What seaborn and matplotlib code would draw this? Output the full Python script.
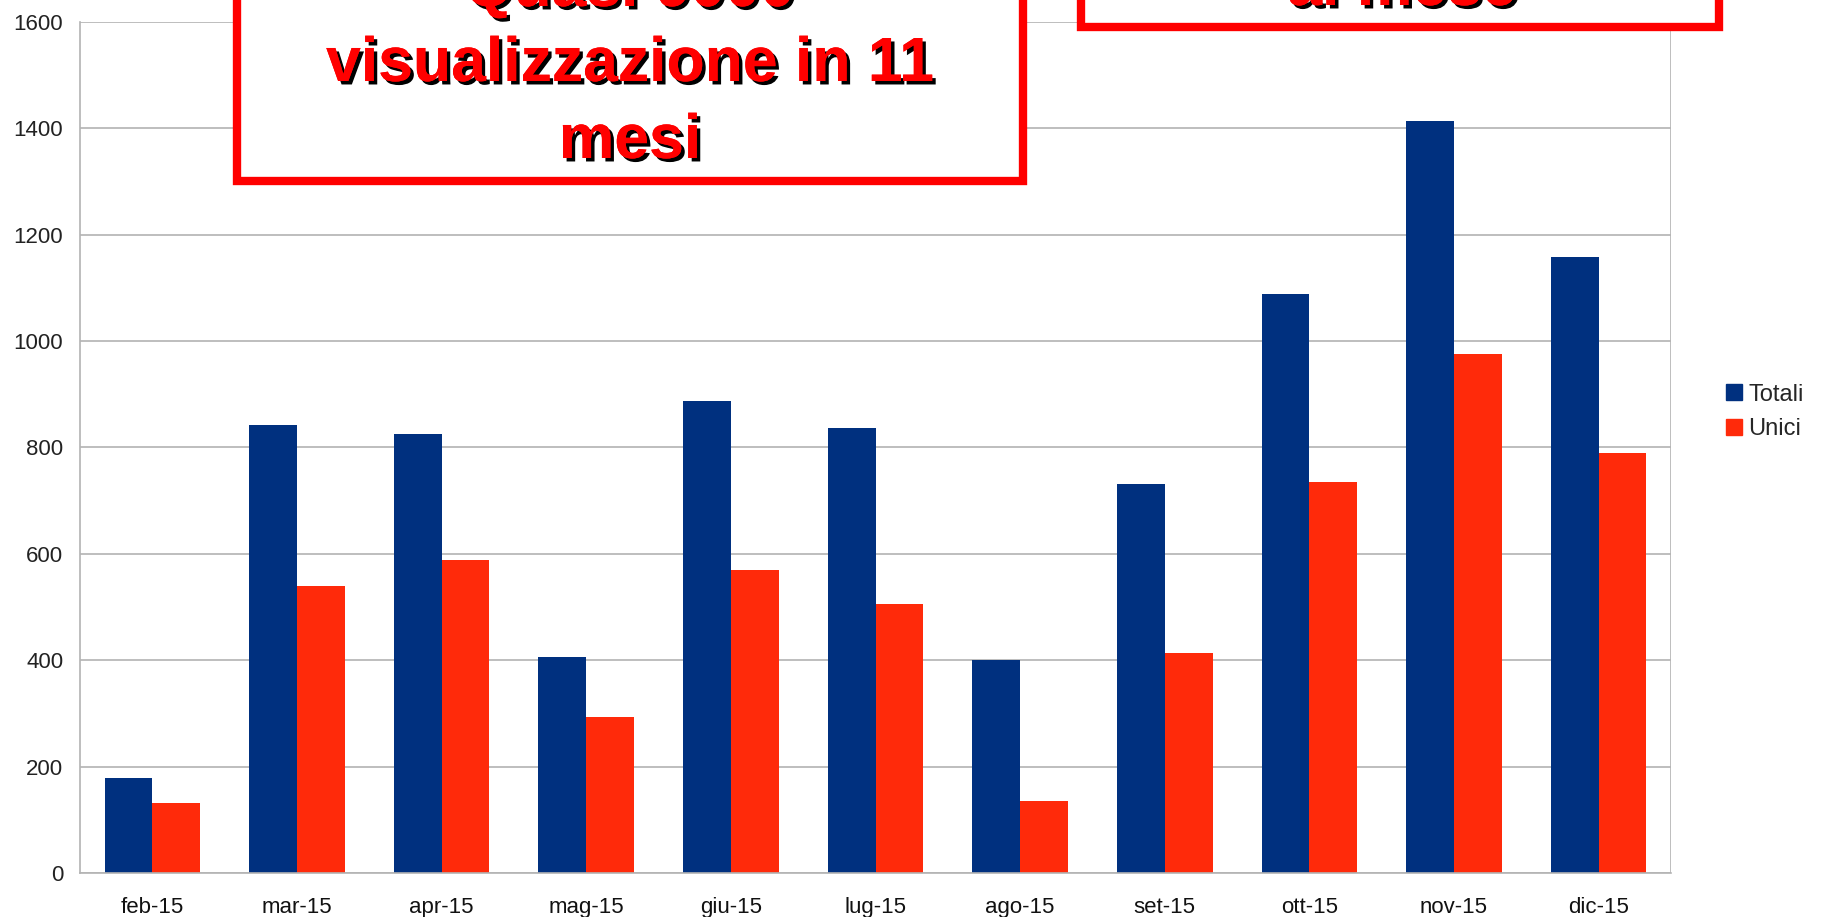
import matplotlib
matplotlib.use("Agg")
import matplotlib.pyplot as plt
import matplotlib.patheffects as pe
from matplotlib.patches import Rectangle
from matplotlib.lines import Line2D
import seaborn as sns
import pandas as pd
import numpy as np

months = ["feb-15", "mar-15", "apr-15", "mag-15", "giu-15", "lug-15",
          "ago-15", "set-15", "ott-15", "nov-15", "dic-15"]
totali = [178, 843, 825, 407, 887, 836, 400, 731, 1089, 1413, 1158]
unici = [132, 539, 588, 293, 570, 506, 136, 414, 735, 975, 790]
series_names = ["Totali", "Unici"]
colors = ["#00307f", "#ff2a0a"]
yticks = [0, 200, 400, 600, 800, 1000, 1200, 1400, 1600]

df = pd.DataFrame({
    "mese": months * 2,
    "valore": totali + unici,
    "serie": [series_names[0]] * len(months) + [series_names[1]] * len(months),
})

sns.set_style("white")
plt.rcParams["font.family"] = ["Liberation Sans Narrow", "Liberation Sans", "DejaVu Sans"]

W, H = 1835, 917
fig = plt.figure(figsize=(W / 100, H / 100), dpi=100)
ax = fig.add_axes([80 / W, 1 - 873 / H, (1671 - 80) / W, (873 - 22) / H])

sns.barplot(data=df, x="mese", y="valore", hue="serie", order=months,
            hue_order=series_names, palette=colors, saturation=1,
            width=0.66, gap=0, ax=ax, legend=False, edgecolor="none")

ax.set_xlim(-0.5, len(months) - 0.5)
ax.set_ylim(0, 1600)
ax.set_yticks(yticks)
ax.set_yticklabels([str(v) for v in yticks])
ax.yaxis.grid(True, color="#b3b3b3", linewidth=1.2)
ax.set_axisbelow(True)
ax.set_xlabel("")
ax.set_ylabel("")

for s in ["left", "bottom"]:
    ax.spines[s].set_color("#b3b3b3")
    ax.spines[s].set_linewidth(1.2)
for s in ["top", "right"]:
    ax.spines[s].set_visible(False)
ax.axvline(len(months) - 0.5, color="#b3b3b3", linewidth=1.2)

ax.tick_params(axis="y", length=8, color="#b3b3b3", width=1.2, pad=4,
               labelsize=16, labelcolor="#222222")
ax.tick_params(axis="x", which="major", length=0, pad=17, labelsize=16,
               labelcolor="#111111")
ax.set_xticks(np.arange(-0.5, len(months), 1.0), minor=True)
ax.tick_params(axis="x", which="minor", length=10, color="#b3b3b3", width=1.2)

handles = [Line2D([0], [0], marker="s", linestyle="none", markersize=11,
                  markerfacecolor=c, markeredgecolor=c) for c in colors]
fig.legend(handles, series_names, loc="center left",
           bbox_to_anchor=(1713 / W, 1 - 412 / H), frameon=False,
           fontsize=17, handletextpad=0.1, labelspacing=0.55,
           handlelength=1.0, borderaxespad=0)

# annotation boxes
shadow = [pe.withSimplePatchShadow(offset=(2.5, -2.5), shadow_rgbFace="black", alpha=1.0), pe.Normal()]

def box(x0, x1, y_bottom):
    r = Rectangle((x0 / W, 1 - y_bottom / H), (x1 - x0) / W, (y_bottom + 40) / H,
                  transform=fig.transFigure, facecolor="white",
                  edgecolor="#ff0000", linewidth=6, zorder=10)
    fig.add_artist(r)

box(237, 1023, 181)
box(1081, 1719, 27)

font_box = ["Liberation Sans", "DejaVu Sans"]
for txt, yb in [("Quasi 9000", 6), ("visualizzazione in 11", 81), ("mesi", 158)]:
    fig.text(630 / W, 1 - yb / H, txt, ha="center", va="baseline",
             fontsize=45, fontweight="bold", color="#ff0000",
             family=font_box, path_effects=shadow, zorder=11)
fig.text(1402 / W, 1 - 5 / H, "al mese", ha="center", va="baseline",
         fontsize=45, fontweight="bold", color="#ff0000",
         family=font_box, path_effects=shadow, zorder=11)

fig.savefig("out.png", dpi=100)
